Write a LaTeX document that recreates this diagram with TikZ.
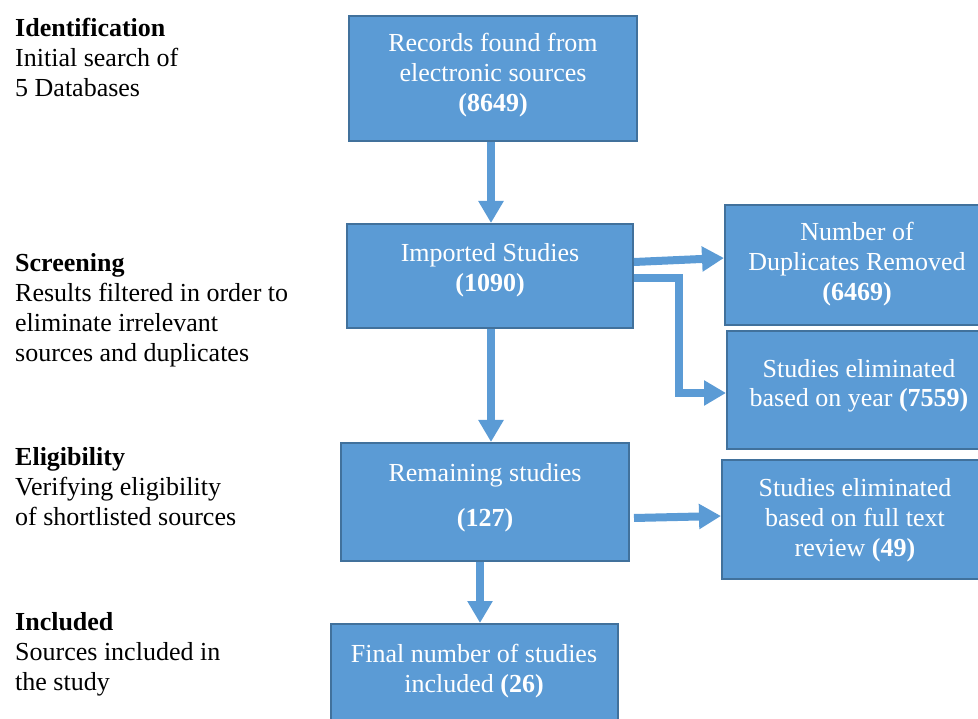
\documentclass[tikz,border=0pt]{standalone}
\usepackage{fontspec}
\setmainfont{Liberation Serif}
\usetikzlibrary{arrows.meta}
\definecolor{boxfill}{HTML}{5B9BD5}
\definecolor{boxline}{HTML}{41719C}
\begin{document}
\begin{tikzpicture}[x=1pt,y=-1pt,
  box/.style={draw=boxline, line width=2pt, fill=boxfill, inner sep=0pt},
  % multi-line texts are placed by the baseline of their last line
  boxtext/.style={text=white, align=center, anchor=base, inner sep=0pt,
    font=\fontsize{26}{30}\selectfont},
  side/.style={anchor=base west, align=left, inner sep=0pt,
    font=\fontsize{26}{30}\selectfont},
  flow/.style={draw=boxfill, line width=8pt,
    -{Triangle[length=22pt,width=24pt]}}]
\useasboundingbox (0,0) rectangle (978,719);
\clip (0,0) rectangle (978,719);

% stage descriptions on the left
\node[side] (sid) at (15,97) {\textbf{Identification}\\Initial search of\\5 Databases};
\node[side] (ssc) at (15,362) {\textbf{Screening}\\Results filtered in order to\\eliminate irrelevant\\sources and duplicates};
\node[side] (sel) at (15,525) {\textbf{Eligibility}\\Verifying eligibility\\of shortlisted sources};
\node[side] (sin) at (15,690) {\textbf{Included}\\Sources included in\\the study};

% flow boxes
\node[box, minimum width=288pt, minimum height=125pt] (b1) at (493,78.5) {};
\node[box, minimum width=286pt, minimum height=104pt] (b2) at (490,276) {};
\node[box, minimum width=264pt, minimum height=120pt] (b3) at (857,265) {};
\node[box, minimum width=262pt, minimum height=118pt] (b4) at (858,390) {};
\node[box, minimum width=288pt, minimum height=118pt] (b5) at (485,502) {};
\node[box, minimum width=266pt, minimum height=119pt] (b6) at (855,519.5) {};
\node[box, minimum width=287pt, minimum height=116pt] (b7) at (474.5,682) {};

% box texts
\node[boxtext] (t1) at (493,112) {Records found from\\electronic sources\\\textbf{(8649)}};
\node[boxtext] (t2) at (490,292) {Imported Studies\\\textbf{(1090)}};
\node[boxtext] (t3) at (857,301) {Number of\\Duplicates Removed\\\textbf{(6469)}};
\node[boxtext] (t4) at (859,407) {Studies eliminated\\based on year \textbf{(7559)}};
\node[boxtext] (t5) at (485,526) {Remaining studies\\[15pt]\textbf{(127)}};
\node[boxtext] (t6) at (855,556) {Studies eliminated\\based on full text\\review \textbf{(49)}};
\node[boxtext] (t7) at (474,692) {Final number of studies\\included \textbf{(26)}};

% connectors
\draw[flow] ([xshift=-2pt]b1.south) -- ([xshift=1pt]b2.north);
\draw[flow] ([yshift=14pt]b2.east) -- ([yshift=7pt]b3.west);
\draw[flow] ([yshift=-2pt]b2.east) -| ([xshift=-47pt,yshift=-3pt]b4.west) -- ([yshift=-3pt]b4.west);
\draw[flow] ([xshift=1pt]b2.south) -- ([xshift=6pt]b5.north);
\draw[flow] ([xshift=4pt,yshift=-16pt]b5.east) -- ([yshift=3.5pt]b6.west);
\draw[flow] ([xshift=-5pt]b5.south) -- ([xshift=5.5pt]b7.north);
\end{tikzpicture}
\end{document}
